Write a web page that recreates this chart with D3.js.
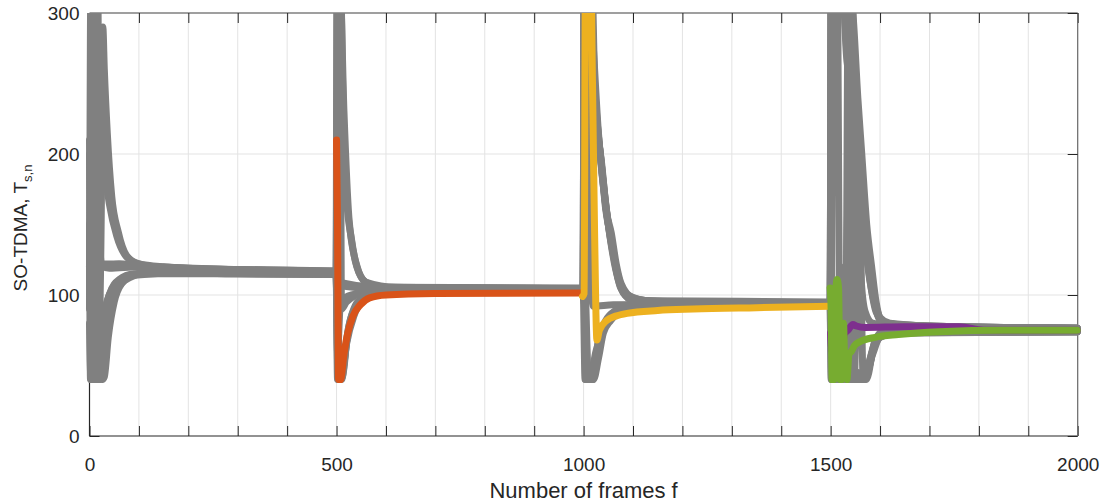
<!DOCTYPE html>
<html>
<head>
<meta charset="utf-8">
<script src="https://cdn.jsdelivr.net/npm/d3@7"></script>
<style>
  html, body { margin: 0; padding: 0; background: #fff; }
  svg { display: block; }
  text { font-family: "Liberation Sans", Arial, Helvetica, sans-serif; fill: #262626; }
</style>
</head>
<body>
<svg id="chart" width="1104" height="504"></svg>
<script>
// ---------- DATA ----------
const xTicks = d3.range(0, 2001, 100);
const xTickLabels = [0, 500, 1000, 1500, 2000];
const yTicks = [0, 100, 200, 300];
const xLabel = "Number of frames f";
const yLabelMain = "SO-TDMA, T";
const yLabelSub = "s,n";

// gray nodes: [frame, T_s,n]
const grayA = [[0,90],[3,330],[10,330],[14,122],[30,121],[60,122],[100,121],[200,119],[300,118],[400,117.5],[499,117],
  [502,330],[508,330],[512,255],[520,170],[530,140],[541,120],[560,109],[600,105.5],[800,105],[999,104.5],
  [1002,330],[1014,330],[1020,240],[1030,210],[1036,195],[1046,160],[1056,144],[1066,122],[1076,108],[1100,98],[1150,95.5],[1300,95],[1499,94.5],
  [1502,330],[1530,330],[1545,300],[1555,240],[1563,200],[1573,150],[1583,120],[1592,95],[1600,84],[1620,80],[1700,78],[1850,77],[1999,76.5]];
const grayB = [[0,210],[4,50],[8,40],[16,45],[25,75],[40,100],[60,111],[90,115],[150,116],[300,115],[499,114.5],
  [503,40],[510,40],[520,65],[535,85],[550,95],[575,100],[620,102.5],[800,103.5],[999,104],
  [1003,40],[1020,40],[1030,55],[1040,73],[1055,82],[1068,87],[1085,91],[1120,93],[1300,94],[1499,94],
  [1503,40],[1560,40],[1572,42],[1585,60],[1600,70],[1620,72.5],[1700,73.5],[1999,74]];
const grayC = [[0,120],[6,220],[12,40],[22,40],[28,60],[40,85],[55,103],[80,112],[120,116],[250,116],[499,115],
  [501,104],[505,60],[510,45],[525,78],[545,96],[580,101],[700,103.5],[999,104],
  [1001,120],[1004,40],[1012,40],[1025,60],[1045,80],[1070,90],[1110,93.5],[1499,94],
  [1501,300],[1508,330],[1520,330],[1535,260],[1545,210],[1556,212],[1560,180],[1570,140],[1580,115],[1595,88],[1610,80],[1700,77.5],[1999,76.5]];
const grayD = [[0,110],[8,200],[14,60],[20,80],[25,200],[27,290],[30,260],[36,215],[45,170],[58,145],[75,128],[100,122],[150,120],[300,118],[499,116.5],
  [501,330],[506,330],[515,230],[525,155],[540,122],[560,109],[620,105.5],[999,105],
  [1001,330],[1016,330],[1024,230],[1034,200],[1045,160],[1056,140],[1070,112],[1090,100],[1130,96],[1499,95],
  [1501,40],[1510,40],[1520,120],[1525,40],[1540,217],[1544,40],[1560,40],[1572,45],[1588,65],[1600,72],[1630,74],[1999,74]];
const grayE = [[0,105],[5,250],[15,230],[22,210],[30,190],[40,165],[55,142],[75,127],[100,122],[160,119],[499,116],
  [502,108],[520,106],[560,105],[700,104.5],[999,104.5],
  [1002,110],[1010,40],[1020,42],[1030,60],[1040,75],[1060,85],[1090,91],[1200,94],[1499,94.5],
  [1502,100],[1510,40],[1525,40],[1535,90],[1548,40],[1556,212],[1560,150],[1566,40],[1572,40],[1590,68],[1610,75],[1999,76.5]];
const grayF = [[0,80],[3,40],[10,42],[18,60],[30,88],[45,104],[70,112],[110,115],[250,115],[499,114.5],
  [502,40],[512,42],[522,72],[540,92],[570,100],[700,103],[999,104],
  [1002,330],[1010,330],[1018,260],[1028,220],[1040,180],[1050,150],[1062,125],[1075,105],[1095,97],[1150,95],[1499,94.5],
  [1501,330],[1525,330],[1540,290],[1550,230],[1560,190],[1570,140],[1580,110],[1592,88],[1610,80],[1700,78],[1999,76.5]];
const grayG = [[0,120],[10,121],[20,122],[60,122],[150,119],[300,118],[499,117],
  [501,110],[520,108],[560,106],[700,105],[999,104.5],
  [1001,98],[1008,45],[1018,40],[1030,68],[1045,82],[1065,89],[1100,93],[1499,94],
  [1501,110],[1505,40],[1530,40],[1550,45],[1565,40],[1575,45],[1590,66],[1605,72],[1650,73.5],[1999,74]];
const grayH = [[0,200],[5,100],[12,200],[18,150],[25,121],[40,119],[100,120],[300,117],[499,116],
  [502,60],[508,95],[530,100],[600,103],[999,104],
  [1001,330],[1005,330],[1015,300],[1030,215],[1050,150],[1065,118],[1080,102],[1100,97],[1200,95],[1499,94.5],
  [1502,60],[1508,40],[1520,40],[1530,100],[1535,40],[1555,45],[1568,40],[1580,55],[1596,70],[1620,73],[1999,74]];
const grayI = [[0,150],[2,40],[9,40],[13,300],[17,330],[20,110],[26,40],[30,42],[38,70],[50,95],[65,108],[90,114],[200,116],[499,115.5],
  [501,115],[503,330],[507,330],[510,90],[520,95],[560,102],[700,104],[999,104.5],
  [1001,104],[1003,330],[1009,330],[1013,120],[1020,92],[1060,93],[1499,94],
  [1501,80],[1504,330],[1514,330],[1518,60],[1522,40],[1530,40],[1536,330],[1542,330],[1550,210],[1556,160],[1562,110],[1570,88],[1585,80],[1650,77.5],[1999,76.5]];
// node that joined at 500 (orange) after its highlighted phase
const grayOrangeLater = [[999,101.5],[1002,330],[1012,330],[1022,250],[1032,205],[1044,165],[1060,130],[1078,104],[1100,96],[1200,94.5],[1499,94],
  [1501,330],[1522,330],[1532,270],[1545,240],[1556,200],[1566,150],[1576,118],[1590,92],[1605,80],[1700,78],[1999,76.5]];
// node that joined at 1000 (yellow) after its highlighted phase
const grayYellowLater = [[1499,92],[1502,40],[1515,40],[1525,70],[1535,40],[1550,45],[1570,42],[1585,58],[1600,70],[1640,73],[1999,74]];

const orangeLine = [[500,210],[502,150],[504,40],[508,40],[515,58],[522,72],[533,85],[548,93],[567,98],[600,100],[700,101],[999,101.5]];
const yellowLine = [[998,99],[1001,101],[1004,340],[1014,340],[1018,250],[1022,150],[1027,68],[1032,75],[1047,82],[1065,85],[1088,87],[1150,89],[1222,90],[1350,91],[1499,92]];
const purpleLine = [[1500,73],[1503,60],[1510,62],[1518,58],[1524,58],[1527,72],[1535,75],[1545,79],[1552,78],[1570,77],[1650,77.5],[1760,77.5],[1810,75],[1999,75]];
const greenLine = [[1499,105],[1501,90],[1503,40],[1507,40],[1510,100],[1513,111],[1516,105],[1519,40],[1523,40],[1526,80],[1529,45],[1533,40],[1537,58],[1542,60],[1548,64],[1560,67],[1590,70],[1637,72],[1720,74],[1850,75],[1999,75]];

const grayLines = [grayA, grayB, grayC, grayD, grayE, grayF, grayG, grayH, grayI, grayOrangeLater, grayYellowLater];
const colorLines = [
  {data: orangeLine, color: "#D95319"},
  {data: yellowLine, color: "#EDB120"},
  {data: purpleLine, color: "#7E2F8E"},
  {data: greenLine,  color: "#77AC30"}
];

// ---------- LAYOUT ----------
const svg = d3.select("#chart");
const L = 89.5, R = 1077.7, T = 13, B = 436;
const x = d3.scaleLinear().domain([0, 2000]).range([L, R]);
const y = d3.scaleLinear().domain([0, 300]).range([B, T]);
const tickLen = 10;
const LW = 7;

// grid
const grid = svg.append("g");
grid.selectAll("line.gx").data(xTicks.filter(d => d > 0 && d < 2000)).join("line")
  .attr("x1", d => x(d)).attr("x2", d => x(d)).attr("y1", T).attr("y2", B)
  .attr("stroke", "#e3e3e3").attr("stroke-width", 1);
grid.selectAll("line.gy").data(yTicks.filter(d => d > 0 && d < 300)).join("line")
  .attr("x1", L).attr("x2", R).attr("y1", d => y(d)).attr("y2", d => y(d))
  .attr("stroke", "#e3e3e3").attr("stroke-width", 1);

// axes (box) drawn below data
const ax = svg.append("g");
const bottomAxis = d3.axisBottom(x).tickValues(xTicks).tickSize(-tickLen).tickFormat(d => xTickLabels.includes(d) ? d : "");
const topAxis = d3.axisTop(x).tickValues(xTicks).tickSize(-tickLen).tickFormat("");
const leftAxis = d3.axisLeft(y).tickValues(yTicks).tickSize(-tickLen).tickFormat(d3.format("d"));
const rightAxis = d3.axisRight(y).tickValues(yTicks).tickSize(-tickLen).tickFormat("");

function styleAxis(g, col) {
  g.select(".domain").attr("stroke", col).attr("stroke-width", 1.2);
  g.selectAll(".tick line").attr("stroke", "#262626").attr("stroke-width", 1);
  g.selectAll(".tick text").attr("fill", "#262626").style("font-size", "19px")
    .style("font-family", "'Liberation Sans', Arial, Helvetica, sans-serif");
}
const gB = ax.append("g").attr("transform", `translate(0,${B})`).call(bottomAxis);
gB.select(".domain").attr("d", `M${L},0H${R}`);
gB.selectAll(".tick text").attr("y", 22).attr("dy", "0.71em");
styleAxis(gB, "#262626");
const gT = ax.append("g").attr("transform", `translate(0,${T})`).call(topAxis);
gT.select(".domain").attr("d", `M${L},0H${R}`);
styleAxis(gT, "#404040");
const gL = ax.append("g").attr("transform", `translate(${L},0)`).call(leftAxis);
gL.select(".domain").attr("d", `M0,${B}V${T}`);
gL.selectAll(".tick text").attr("x", -10);
styleAxis(gL, "#262626");
const gR = ax.append("g").attr("transform", `translate(${R},0)`).call(rightAxis);
gR.select(".domain").attr("d", `M0,${B}V${T}`);
styleAxis(gR, "#666");

// clip (only top: data above 300 is cut)
svg.append("defs").append("clipPath").attr("id", "clip")
  .append("rect").attr("x", 0).attr("y", T).attr("width", 1104).attr("height", 504 - T);

const line = d3.line().x(d => x(d[0])).y(d => y(d[1])).curve(d3.curveMonotoneX);
const plot = svg.append("g").attr("clip-path", "url(#clip)");
plot.selectAll("path.gray").data(grayLines).join("path")
  .attr("class", "gray")
  .attr("d", line).attr("fill", "none").attr("stroke", "#808080")
  .attr("stroke-width", LW).attr("stroke-linejoin", "round").attr("stroke-linecap", "round");
plot.selectAll("path.col").data(colorLines).join("path")
  .attr("class", "col")
  .attr("d", d => line(d.data)).attr("fill", "none").attr("stroke", d => d.color)
  .attr("stroke-width", LW).attr("stroke-linejoin", "round").attr("stroke-linecap", "round");

// labels
svg.append("text").attr("x", (L + R) / 2).attr("y", 498).attr("text-anchor", "middle")
  .style("font-size", "22px").text(xLabel);
const yl = svg.append("text").attr("transform", "translate(27,228) rotate(-90)")
  .attr("text-anchor", "middle").style("font-size", "19px");
yl.append("tspan").text(yLabelMain);
yl.append("tspan").attr("dy", 5).style("font-size", "13px").text(yLabelSub);
</script>
</body>
</html>
